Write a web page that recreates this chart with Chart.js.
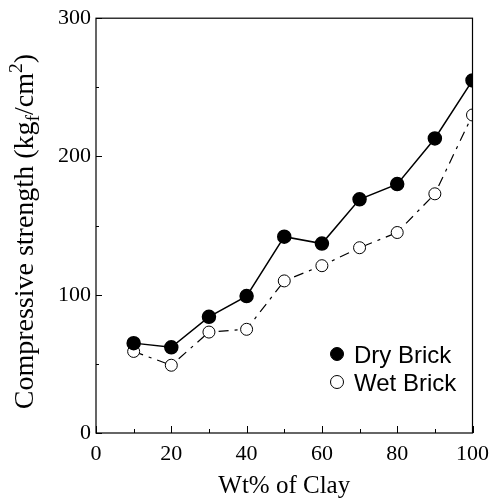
<!DOCTYPE html>
<html>
<head>
<meta charset="utf-8">
<script src="https://cdn.jsdelivr.net/npm/chart.js@4.4.1/dist/chart.umd.min.js"></script>
<style>
  html, body { margin: 0; padding: 0; background: #fff; }
  #wrap { width: 497px; height: 501px; }
</style>
</head>
<body>
<div id="wrap"><canvas id="brickChart" width="497" height="501"></canvas></div>
<script>
const clayPct = [10, 20, 30, 40, 50, 60, 70, 80, 90, 100];
const dryBrick = [65, 62, 84, 99, 142, 137, 169, 180, 213, 255];
const wetBrick = [59, 49, 73, 75, 110, 121, 134, 145, 173, 230];

const xTicks = [0, 20, 40, 60, 80, 100];
const xMinor = [10, 30, 50, 70, 90];
const yTicks = [0, 100, 200, 300];
const yMinor = [50, 150, 250];

const serif = "'Liberation Serif', 'Times New Roman', serif";
const sans = "'Liberation Sans', Arial, sans-serif";

function toPoints(values) {
	return clayPct.map((x, i) => ({ x: x, y: values[i] }));
}

// box, inward ticks, rotated y title with sub/superscript, legend in the plot
const decorations = {
	id: "decorations",
	afterDatasetsDraw(chart) {
		const { ctx, chartArea: a, scales } = chart;
		ctx.save();
		ctx.strokeStyle = "#000";
		ctx.lineWidth = 1.2;
		ctx.strokeRect(a.left, a.top, a.right - a.left, a.bottom - a.top);

		ctx.lineWidth = 1;
		ctx.beginPath();
		xTicks.forEach(v => {
			const px = Math.round(scales.x.getPixelForValue(v)) + 0.5;
			ctx.moveTo(px, a.bottom); ctx.lineTo(px, a.bottom - 7);
		});
		xMinor.forEach(v => {
			const px = Math.round(scales.x.getPixelForValue(v)) + 0.5;
			ctx.moveTo(px, a.bottom); ctx.lineTo(px, a.bottom - 4);
		});
		yTicks.forEach(v => {
			const py = Math.round(scales.y.getPixelForValue(v)) + 0.5;
			ctx.moveTo(a.left, py); ctx.lineTo(a.left + 6, py);
		});
		yMinor.forEach(v => {
			const py = Math.round(scales.y.getPixelForValue(v)) + 0.5;
			ctx.moveTo(a.left, py); ctx.lineTo(a.left + 3, py);
		});
		ctx.stroke();

		// y axis title
		const size = 28;
		const parts = [
			{ t: "Compressive strength (kg", s: 1, dy: 0 },
			{ t: "f", s: 0.7, dy: 0.22 },
			{ t: "/cm", s: 1, dy: 0 },
			{ t: "2", s: 0.7, dy: -0.38 },
			{ t: ")", s: 1, dy: 0 },
		];
		let total = 0;
		parts.forEach(p => {
			ctx.font = (size * p.s) + "px " + serif;
			p.w = ctx.measureText(p.t).width;
			total += p.w;
		});
		ctx.translate(33, (a.top + a.bottom) / 2 + 6);
		ctx.rotate(-Math.PI / 2);
		ctx.fillStyle = "#000";
		ctx.textBaseline = "alphabetic";
		ctx.textAlign = "left";
		let cx = -total / 2;
		parts.forEach(p => {
			ctx.font = (size * p.s) + "px " + serif;
			ctx.fillText(p.t, cx, p.dy * size);
			cx += p.w;
		});
		ctx.restore();

		// legend
		ctx.save();
		ctx.font = "24px " + sans;
		ctx.textBaseline = "alphabetic";
		ctx.fillStyle = "#000";
		chart.data.datasets.forEach((ds, i) => {
			const cy = 354 + i * 28;
			ctx.beginPath();
			ctx.arc(337, cy, 6.5, 0, Math.PI * 2);
			ctx.fillStyle = ds.pointBackgroundColor;
			ctx.fill();
			ctx.strokeStyle = "#000";
			ctx.lineWidth = 1;
			ctx.stroke();
			ctx.fillStyle = "#000";
			ctx.fillText(ds.label, 354, cy + 9);
		});
		ctx.restore();
	},
};

new Chart(document.getElementById("brickChart"), {
	type: "line",
	data: {
		datasets: [
			{
				label: "Dry Brick",
				data: toPoints(dryBrick),
				borderColor: "#000",
				borderWidth: 1.5,
				pointRadius: 6.5,
				pointBackgroundColor: "#000",
				pointBorderColor: "#000",
				fill: false,
			},
			{
				label: "Wet Brick",
				data: toPoints(wetBrick),
				borderColor: "#000",
				borderWidth: 1.2,
				borderDash: [10, 6, 3, 6],
				pointRadius: 6,
				pointBorderWidth: 1,
				pointBackgroundColor: "#fff",
				pointBorderColor: "#000",
				fill: false,
			},
		],
	},
	options: {
		responsive: false,
		animation: false,
		layout: { padding: { top: 16, right: 21, left: 0, bottom: 0 } },
		plugins: { legend: { display: false }, tooltip: { enabled: false } },
		scales: {
			x: {
				type: "linear",
				min: 0,
				max: 100,
				afterBuildTicks: s => { s.ticks = xTicks.map(v => ({ value: v })); },
				grid: { display: false, drawTicks: false },
				border: { display: false },
				ticks: { color: "#000", padding: 8, maxRotation: 0, font: { family: serif, size: 22 } },
				title: {
					display: true,
					text: "Wt% of Clay",
					color: "#000",
					padding: 0,
					font: { family: serif, size: 25 },
				},
				afterFit: s => { s.height = 68; },
			},
			y: {
				min: 0,
				max: 300,
				afterBuildTicks: s => { s.ticks = yTicks.map(v => ({ value: v })); },
				grid: { display: false, drawTicks: false },
				border: { display: false },
				ticks: { color: "#000", padding: 5, font: { family: serif, size: 22 } },
				afterFit: s => { s.width = 96; },
			},
		},
	},
	plugins: [decorations],
});
</script>
</body>
</html>
